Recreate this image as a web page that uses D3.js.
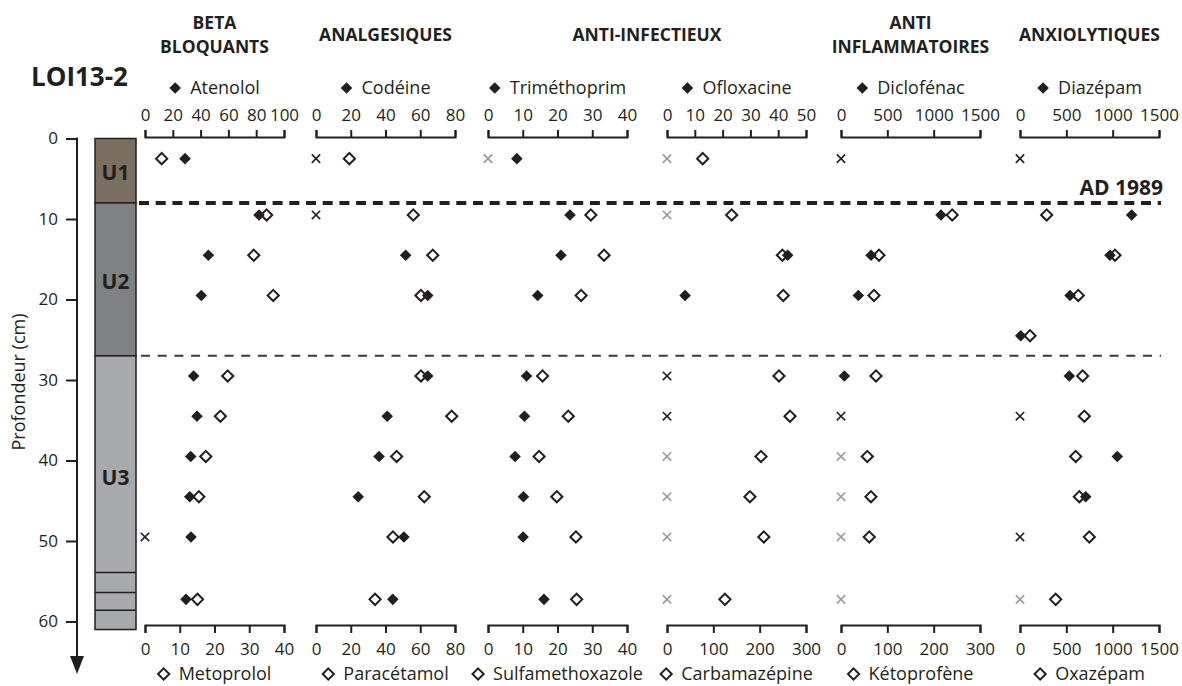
<!DOCTYPE html>
<html><head><meta charset="utf-8">
<script src="https://cdn.jsdelivr.net/npm/d3@7"></script>
<style>
html,body{margin:0;padding:0;background:#fff;}
svg text{font-family:"Open Sans",sans-serif;fill:#231f20;}
</style></head>
<body>
<svg id="chart" width="1182" height="686"></svg>
<script>
// ---------- DATA ----------
const depths = [2.5, 9.5, 14.5, 19.5, 24.5, 29.5, 34.5, 39.5, 44.5, 49.5, 57.25];
const depthTicks = [0, 10, 20, 30, 40, 50, 60];

const atenolol        = [28.8, 82, 45.6, 40.5, null, 35, 37.4, 32.9, 32.2, 33.1, 29.5];
const metoprolol      = [4.8, 35, 31.3, 36.9, null, 23.8, 21.7, 17.5, 15.5, null, 15.1];
const codeine         = [null, null, 51.6, 64.3, null, 64.3, 41, 36.3, 24.3, 50.6, 44.2];
const paracetamol     = [19.2, 56, 67.2, 60.4, null, 60.4, 78.1, 46.4, 62.3, 44.3, 34];
const trimethoprim    = [8.3, 23.6, 21, 14.3, null, 11.1, 10.5, 7.8, 10.2, 10.1, 16.1];
const sulfamethoxazole= [null, 29.6, 33.4, 26.8, null, 15.7, 23.1, 14.7, 19.8, 25.3, 25.5];
const ofloxacine      = [null, null, 43.4, 6.5, null, null, null, null, null, null, null];
const carbamazepine   = [77, 139.6, 249, 251, null, 241.7, 265.5, 202.9, 179, 209, 125];
const diclofenac      = [null, 1079, 324, 187, null, 36, null, null, null, null, null];
const ketoprofene     = [null, 240, 82, 71.2, null, 75.5, null, 56.8, 64.7, 61, null];
const diazepam        = [null, 1205, 971, 540, 8, 532, null, 1050, 709, null, null];
const oxazepam        = [null, 288, 1025, 629, 108, 676, 694, 601, 640, 748, 385];

// depths where a compound is below quantification (black ×) / not detected (grey ×)
const belowLOQ    = [[49.5], [2.5, 9.5], [], [29.5, 34.5], [2.5, 34.5], [2.5, 34.5, 49.5]];
const notDetected = [[], [], [2.5], [2.5, 9.5, 39.5, 44.5, 49.5, 57.25], [39.5, 44.5, 49.5, 57.25], [57.25]];

const topNames    = ["Atenolol", "Codéine", "Triméthoprim", "Ofloxacine", "Diclofénac", "Diazépam"];
const bottomNames = ["Metoprolol", "Paracétamol", "Sulfamethoxazole", "Carbamazépine", "Kétoprofène", "Oxazépam"];
const topSeries    = [atenolol, codeine, trimethoprim, ofloxacine, diclofenac, diazepam];
const bottomSeries = [metoprolol, paracetamol, sulfamethoxazole, carbamazepine, ketoprofene, oxazepam];
const topMax    = [100, 80, 40, 50, 1500, 1500];
const bottomMax = [40, 80, 40, 300, 300, 1500];
const topTicks = [[0,20,40,60,80,100],[0,20,40,60,80],[0,10,20,30,40],[0,10,20,30,40,50],[0,500,1000,1500],[0,500,1000,1500]];
const bottomTicks = [[0,10,20,30,40],[0,20,40,60,80],[0,10,20,30,40],[0,100,200,300],[0,100,200,300],[0,500,1000,1500]];

const groupTitles = [["BETA","BLOQUANTS"],["ANALGESIQUES"],["ANTI-INFECTIEUX"],["ANTI","INFLAMMATOIRES"],["ANXIOLYTIQUES"]];
const groupPanels = [[0],[1],[2,3],[4],[5]];

const units = ["U1","U2","U3"];
const unitTop = [0, 8, 27];
const unitBottom = [8, 27, 61];
const u3Laminae = [53.9, 56.4, 58.6];
const ad1989Depth = 8;
const unitBoundaryDepth = 27;

// ---------- LAYOUT ----------
const ink = "#231f20";
const svg = d3.select("#chart");
const y = d3.scaleLinear().domain([0, 60]).range([138.5, 621.5]);
const panelX0 = [145, 316, 488, 667, 841, 1020];
const panelW = 139;
const topAxisY = 137, bottomAxisY = 625;

// Depth axis
const yAxisX = 77;
const ya = svg.append("g").attr("transform", `translate(${yAxisX},0)`)
  .call(d3.axisLeft(y).tickValues(depthTicks).tickSize(11).tickPadding(8).tickSizeOuter(0));
ya.select(".domain").remove();
ya.selectAll(".tick line").attr("stroke", ink).attr("stroke-width", 2);
ya.selectAll(".tick text").attr("font-size", 17).attr("fill", ink).style("font-family", "Open Sans");
svg.append("line").attr("x1", yAxisX).attr("x2", yAxisX).attr("y1", y(0) - 1).attr("y2", 660)
  .attr("stroke", ink).attr("stroke-width", 2);
svg.append("path").attr("d", `M${yAxisX-7},656 L${yAxisX+7},656 L${yAxisX},674 Z`).attr("fill", ink);
svg.append("text").attr("transform", `translate(25,382) rotate(-90)`).attr("text-anchor", "middle")
  .attr("font-size", 18).text("Profondeur (cm)");

// Core log
const unitFill = ["#7b6f61", "#808184", "#a7a9ac"];
const coreX = 95, coreW = 41;
units.forEach((u, i) => {
  svg.append("rect").attr("x", coreX).attr("y", y(unitTop[i])).attr("width", coreW)
    .attr("height", y(unitBottom[i]) - y(unitTop[i])).attr("fill", unitFill[i])
    .attr("stroke", ink).attr("stroke-width", 1.5);
});
u3Laminae.forEach(d => svg.append("line").attr("x1", coreX).attr("x2", coreX + coreW)
  .attr("y1", y(d)).attr("y2", y(d)).attr("stroke", ink).attr("stroke-width", 1.5));
const unitLabelDepth = [4.2, 17.7, 42];
units.forEach((u, i) => svg.append("text").attr("x", coreX + coreW / 2).attr("y", y(unitLabelDepth[i]) + 8)
  .attr("text-anchor", "middle").attr("font-size", 21).attr("font-weight", 700).attr("fill", "#3a3a3a").text(u));

svg.append("text").attr("x", 79.5).attr("y", 86).attr("text-anchor", "middle")
  .attr("font-size", 26).attr("font-weight", 700).text("LOI13-2");

// Dashed horizons
svg.append("line").attr("x1", 139).attr("x2", 1161).attr("y1", y(ad1989Depth)).attr("y2", y(ad1989Depth))
  .attr("stroke", ink).attr("stroke-width", 4).attr("stroke-dasharray", "10,6.7");
svg.append("line").attr("x1", 141).attr("x2", 1161).attr("y1", y(unitBoundaryDepth)).attr("y2", y(unitBoundaryDepth))
  .attr("stroke", "#3a3a3a").attr("stroke-width", 2).attr("stroke-dasharray", "9,7.7");
svg.append("text").attr("x", 1163).attr("y", 195).attr("text-anchor", "end")
  .attr("font-size", 21).attr("font-weight", 700).text("AD 1989");

// Markers
const filledD = "M0,-5.8L5.8,0L0,5.8L-5.8,0Z";
const openD = "M0,-5.6L5.6,0L0,5.6L-5.6,0Z";
function cross(g, cx, cy, col) {
  g.append("path").attr("d", `M${cx-4.2},${cy-4.2}L${cx+4.2},${cy+4.2}M${cx-4.2},${cy+4.2}L${cx+4.2},${cy-4.2}`)
    .attr("stroke", col).attr("stroke-width", 1.6).attr("fill", "none");
}
function legend(g, cx, cy, name, filled) {
  const lg = g.append("g");
  lg.append("path").attr("d", filled ? filledD : openD)
    .attr("fill", filled ? ink : "#fff").attr("stroke", ink).attr("stroke-width", filled ? 0 : 2)
    .attr("transform", `translate(0,${cy - 6})`);
  const t = lg.append("text").attr("x", 15).attr("y", cy).attr("font-size", 18).text(name);
  const w = 15 + t.node().getComputedTextLength() + 6;
  lg.attr("transform", `translate(${cx - w / 2 + 6},0)`);
}

panelX0.forEach((x0, p) => {
  const xTop = d3.scaleLinear().domain([0, topMax[p]]).range([x0, x0 + panelW]);
  const xBot = d3.scaleLinear().domain([0, bottomMax[p]]).range([x0, x0 + panelW]);
  const g = svg.append("g");

  const at = g.append("g").attr("transform", `translate(0,${topAxisY})`)
    .call(d3.axisTop(xTop).tickValues(topTicks[p]).tickSize(7).tickSizeOuter(7).tickPadding(9).tickFormat(d3.format("d")));
  const ab = g.append("g").attr("transform", `translate(0,${bottomAxisY})`)
    .call(d3.axisBottom(xBot).tickValues(bottomTicks[p]).tickSize(8).tickSizeOuter(8).tickPadding(10).tickFormat(d3.format("d")));
  [at, ab].forEach(a => {
    a.select(".domain").attr("stroke", ink).attr("stroke-width", 2);
    a.selectAll(".tick line").attr("stroke", ink).attr("stroke-width", 2);
    a.selectAll(".tick text").attr("font-size", 17).attr("fill", ink).style("font-family", "Open Sans");
  });

  const cx = x0 + panelW / 2;
  legend(g, cx, 94, topNames[p], true);
  legend(g, cx, 680, bottomNames[p], false);

  depths.forEach((d, i) => {
    const vb = bottomSeries[p][i];
    if (vb != null) g.append("path").attr("d", openD).attr("transform", `translate(${xBot(vb)},${y(d)})`)
      .attr("fill", "#fff").attr("stroke", ink).attr("stroke-width", 2);
  });
  depths.forEach((d, i) => {
    const vt = topSeries[p][i];
    if (vt != null) g.append("path").attr("d", filledD).attr("transform", `translate(${xTop(vt)},${y(d)})`)
      .attr("fill", ink);
  });
  belowLOQ[p].forEach(d => cross(g, xTop(0), y(d), ink));
  notDetected[p].forEach(d => cross(g, xTop(0), y(d), "#9a9a9a"));
});

// Group titles
groupTitles.forEach((lines, i) => {
  const ps = groupPanels[i];
  const cx = (panelX0[ps[0]] + panelX0[ps[ps.length - 1]] + panelW) / 2;
  const baselines = lines.length === 2 ? [29, 53] : [41];
  lines.forEach((l, j) => svg.append("text").attr("x", cx).attr("y", baselines[j])
    .attr("text-anchor", "middle").attr("font-size", 17.5).attr("font-weight", 700).text(l));
});
</script>
</body></html>
